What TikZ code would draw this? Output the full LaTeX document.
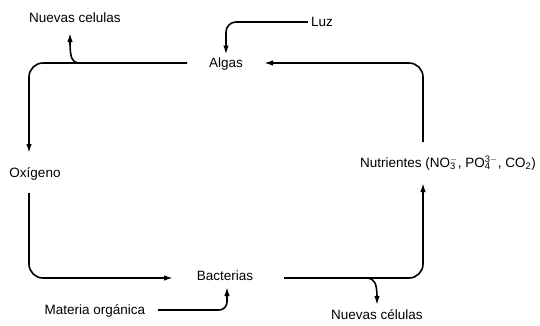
\documentclass[tikz,border=0pt]{standalone}
\usepackage{fontspec}
\setmainfont{Liberation Sans}
\usetikzlibrary{arrows.meta}
\newcommand{\subsup}[2]{\rlap{\textsubscript{#1}}\textsuperscript{#2}}
\begin{document}
\begin{tikzpicture}[x=1pt,y=-1pt,
  lbl/.style={font=\fontsize{13.5}{15}\selectfont, inner sep=3pt},
  conn/.style={line width=1.6pt, -{Latex[length=9pt,width=5.5pt]}},
  bigturn/.style={rounded corners=14pt},
  smallturn/.style={rounded corners=8pt}]
\useasboundingbox (0,0) rectangle (540,325);
% nodes
\node[lbl] (nc1) at (75,18) {Nuevas celulas};
\node[lbl] (luz) at (322,22) {Luz};
\node[lbl] (algas) at (226,64) {Algas};
\node[lbl] (oxi) at (35,174) {Oxígeno};
\node[lbl, anchor=east] (nut) at (539,163) {Nutrientes (NO\subsup{3}{$-$}, PO\subsup{4}{3$-$}, CO\textsubscript{2})};
\node[lbl] (bac) at (225,276) {Bacterias};
\node[lbl] (mat) at (95,311) {Materia orgánica};
\node[lbl] (nc2) at (377,315) {Nuevas células};
% connector end points
\coordinate (algW) at (187,63);
\coordinate (algE) at (264,63);
\coordinate (oxiT) at (29,153);
\coordinate (oxiB) at (29,193);
\coordinate (bacW) at (173,278);
\coordinate (bacE) at (284,278);
\coordinate (bacS) at (227,287);
\coordinate (matE) at (158,310);
\coordinate (nutT) at (423,142);
\coordinate (nutB) at (423,183);
\coordinate (br1) at (78,63);
\coordinate (nc1S) at (70,33);
\coordinate (br2) at (368,278);
\coordinate (nc2N) at (377,305);
% connectors
\draw[conn, rounded corners=10pt] (luz.west) -| (algas.north);
\draw[conn, bigturn] (algW) -| (oxiT);
\draw[conn, bigturn] (oxiB) |- (bacW);
\draw[conn, smallturn] (matE) -| (bacS);
\draw[conn, bigturn] (bacE) -| (nutB);
\draw[conn, bigturn] (nutT) |- (algE);
\draw[conn] (br1) .. controls (72,62) and (70,58) .. (nc1S);
\draw[conn] (br2) .. controls (374,279) and (377,283) .. (nc2N);
\end{tikzpicture}
\end{document}
